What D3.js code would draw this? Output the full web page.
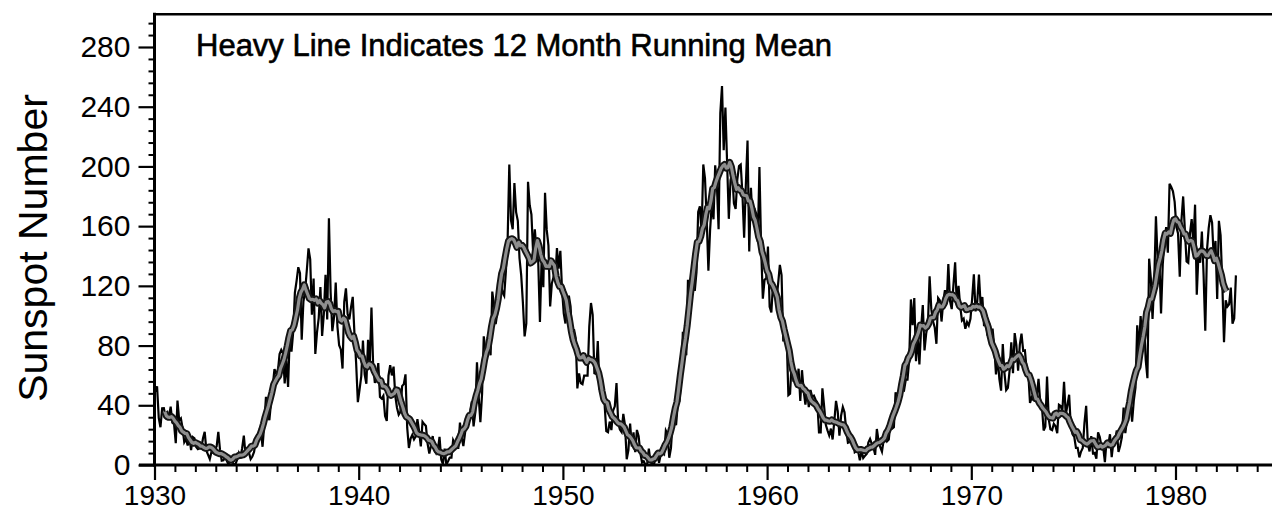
<!DOCTYPE html>
<html>
<head>
<meta charset="utf-8">
<script src="https://cdn.jsdelivr.net/npm/d3@7"></script>
<style>
  html, body { margin: 0; padding: 0; background: #fff; }
  svg { display: block; }
  text { font-family: "Liberation Sans", Arial, sans-serif; fill: #000; }
</style>
</head>
<body>
<svg id="chart" width="1272" height="512"></svg>
<script>
// Monthly mean sunspot numbers, January of the first year onward.
const firstYear = 1930;
const spots1930s = [
  49.2, 52.7, 31.5, 25.3, 38.0, 38.1, 32.2, 34.5, 32.6, 39.1, 28.3, 27.3,
  14.6, 43.1, 30.0, 31.2, 24.6, 15.3, 17.4, 13.0, 19.0, 10.0, 18.7, 17.8,
  12.1, 10.6, 11.2, 11.2, 17.9, 22.2, 9.6, 6.8, 4.0, 8.9, 8.2, 11.0,
  12.3, 22.2, 10.1, 2.9, 3.2, 5.2, 2.8, 0.2, 5.1, 3.0, 0.6, 0.3,
  3.4, 7.8, 4.3, 11.3, 19.7, 6.7, 9.3, 8.3, 4.0, 5.7, 8.7, 15.4,
  18.6, 20.5, 23.1, 12.2, 27.3, 45.7, 33.9, 30.1, 42.1, 53.2, 64.2, 61.5,
  62.8, 74.3, 77.1, 74.9, 54.6, 70.0, 52.3, 87.0, 76.0, 89.0, 115.4, 123.4,
  132.5, 128.5, 83.9, 109.3, 116.7, 130.3, 145.1, 137.7, 100.7, 124.9, 74.4, 88.8,
  98.4, 119.2, 86.5, 101.0, 127.4, 97.5, 165.3, 115.7, 89.6, 99.1, 122.2, 92.7,
  80.3, 77.4, 64.6, 109.1, 118.3, 101.0, 97.6, 105.8, 112.6, 88.1, 68.1, 42.1
];
const spots1940s = [
  50.5, 59.4, 83.3, 60.7, 54.4, 83.9, 67.5, 105.5, 66.5, 55.0, 58.4, 68.3,
  45.6, 44.5, 46.4, 32.8, 29.5, 59.8, 66.9, 60.0, 65.9, 46.3, 38.4, 33.7,
  35.6, 52.8, 54.2, 60.7, 25.0, 11.4, 17.7, 20.2, 17.2, 19.2, 30.7, 22.5,
  12.4, 28.9, 27.4, 26.1, 14.1, 7.6, 13.2, 19.4, 10.0, 7.8, 10.2, 18.8,
  3.7, 0.5, 11.0, 0.3, 2.5, 5.0, 5.0, 16.7, 14.3, 16.9, 10.8, 28.4,
  18.5, 12.7, 21.5, 32.0, 30.6, 36.2, 42.6, 25.9, 34.9, 68.8, 46.0, 28.7,
  47.6, 86.2, 76.6, 75.7, 84.9, 73.5, 116.2, 107.2, 94.4, 102.3, 123.8, 121.7,
  115.7, 113.4, 129.8, 149.8, 201.3, 163.9, 157.9, 188.8, 169.4, 163.6, 138.5, 127.0,
  108.5, 86.1, 94.8, 189.7, 174.0, 167.8, 142.2, 157.9, 143.3, 136.3, 95.8, 138.0,
  119.1, 182.3, 157.5, 147.0, 106.2, 121.7, 125.8, 123.8, 145.3, 131.6, 143.5, 117.6
];
const spots1950s = [
  101.6, 94.8, 109.7, 113.4, 106.2, 83.6, 91.0, 85.2, 51.3, 61.4, 54.8, 54.1,
  59.9, 59.9, 59.9, 92.9, 108.5, 100.6, 61.5, 61.0, 83.1, 51.6, 52.4, 45.8,
  40.7, 22.7, 22.0, 29.1, 23.4, 36.4, 39.3, 54.9, 28.2, 23.8, 22.1, 34.3,
  26.5, 3.9, 10.0, 27.8, 12.5, 21.8, 8.6, 23.5, 19.3, 8.2, 1.6, 2.5,
  0.2, 0.5, 10.9, 1.8, 0.8, 0.2, 4.8, 8.4, 1.5, 7.0, 9.2, 7.6,
  23.1, 20.8, 4.9, 11.3, 28.9, 31.7, 26.7, 40.7, 42.7, 58.5, 89.2, 76.9,
  73.6, 124.0, 118.4, 110.7, 136.6, 116.6, 129.1, 169.6, 173.2, 155.3, 201.3, 192.1,
  165.0, 130.2, 157.4, 175.2, 164.6, 200.7, 187.2, 158.0, 235.8, 253.8, 210.9, 239.4,
  202.5, 164.9, 190.7, 196.0, 175.3, 171.5, 191.4, 200.2, 201.2, 181.5, 152.3, 187.6,
  217.4, 143.1, 185.7, 163.3, 172.0, 168.7, 149.6, 199.6, 145.2, 111.4, 124.0, 125.0
];
const spots1960s = [
  146.3, 106.0, 102.2, 122.0, 119.6, 110.2, 121.7, 134.1, 127.2, 82.8, 89.6, 85.6,
  46.8, 47.8, 70.0, 55.9, 63.2, 51.9, 64.5, 42.9, 63.5, 49.7, 40.5, 49.6,
  38.7, 50.3, 45.6, 46.4, 43.7, 42.0, 21.8, 21.8, 51.3, 39.5, 26.9, 23.2,
  19.8, 24.4, 17.1, 29.3, 43.0, 35.9, 19.6, 33.2, 38.8, 35.3, 23.4, 14.9,
  15.3, 17.7, 16.5, 8.6, 9.5, 9.1, 3.1, 9.3, 4.7, 6.1, 7.4, 15.1,
  17.5, 14.2, 11.7, 6.8, 24.1, 15.9, 11.9, 8.9, 16.8, 20.1, 15.8, 17.0,
  28.2, 24.4, 25.3, 48.7, 45.3, 47.7, 56.7, 51.2, 50.2, 57.2, 57.2, 70.4,
  110.9, 93.6, 111.8, 69.5, 86.5, 67.3, 91.5, 107.2, 76.8, 88.2, 94.3, 126.4,
  104.4, 96.2, 92.2, 81.2, 111.9, 110.3, 96.1, 109.3, 117.2, 107.7, 134.6, 109.8,
  104.4, 120.5, 135.8, 106.8, 120.0, 106.0, 96.8, 98.0, 91.3, 95.7, 93.5, 97.9
];
const spots1970s = [
  111.5, 127.8, 102.9, 109.5, 127.5, 106.8, 112.5, 93.0, 99.5, 86.6, 95.2, 83.5,
  91.3, 79.0, 60.7, 71.8, 57.5, 49.8, 81.0, 61.4, 50.2, 51.7, 63.2, 82.2,
  61.5, 88.4, 80.1, 63.2, 80.5, 88.0, 76.5, 76.8, 64.0, 61.3, 41.6, 45.3,
  43.4, 42.9, 46.0, 57.7, 42.4, 39.5, 23.1, 25.6, 59.3, 30.7, 23.9, 23.3,
  27.6, 26.0, 21.3, 40.3, 39.5, 36.0, 55.8, 33.6, 40.2, 47.1, 25.0, 20.5,
  18.9, 11.5, 11.5, 5.1, 9.0, 11.4, 28.2, 39.7, 13.9, 9.1, 19.4, 7.8,
  8.1, 4.3, 21.9, 18.8, 12.4, 12.2, 1.9, 16.4, 13.5, 20.6, 5.2, 15.3,
  16.4, 23.1, 8.7, 12.9, 18.6, 38.5, 21.4, 30.1, 44.0, 43.8, 29.1, 43.2,
  51.9, 93.6, 76.5, 99.7, 82.7, 95.1, 70.4, 58.1, 138.2, 125.1, 97.9, 122.7,
  166.6, 137.5, 138.0, 101.5, 134.4, 149.5, 159.4, 142.2, 188.4, 186.2, 183.3, 176.3
];
const spots1980s = [
  159.6, 155.0, 126.2, 164.1, 179.9, 157.3, 136.3, 135.4, 155.0, 164.7, 147.9, 174.4,
  114.0, 141.3, 135.5, 156.4, 127.5, 90.0, 143.8, 158.7, 167.3, 162.4, 137.5, 150.1,
  111.2, 163.6, 153.8, 122.0, 82.2, 110.4, 106.1, 107.6, 118.8, 94.7, 98.1, 127.0
];

const xTickYears = [1930, 1940, 1950, 1960, 1970, 1980];
const yTickValues = [0, 40, 80, 120, 160, 200, 240, 280];
const yTitle = "Sunspot Number";
const note = "Heavy Line Indicates 12 Month Running Mean";
const runningWindow = 12;

// Flatten into one monthly series with fractional-year time stamps (mid-month).
const monthlyValues = [].concat(spots1930s, spots1940s, spots1950s, spots1960s, spots1970s, spots1980s);
const monthly = monthlyValues.map((v, i) => ({ t: firstYear + (i + 0.5) / 12, v }));

// Centred 12-month running mean, drawn where the full window is available.
const half = runningWindow / 2;
const smooth = [];
for (let i = half; i + half <= monthlyValues.length; i++) {
  smooth.push({ t: firstYear + i / 12, v: d3.mean(monthlyValues.slice(i - half, i + half)) });
}

const svg = d3.select("#chart");
const W = 1272, H = 512;

const x = d3.scaleLinear().domain([1930, 1980]).range([154.5, 1175.5]);
const y = d3.scaleLinear().domain([0, 280]).range([465, 47]);
const xEnd = x.invert(W + 10);
const yTop = 302;

// Clip marks to the plotting frame
svg.append("clipPath").attr("id", "plot-clip")
  .append("rect")
  .attr("x", x(1930)).attr("y", y(yTop))
  .attr("width", W - x(1930)).attr("height", y(0) - y(yTop));

const line = d3.line().x(d => x(d.t)).y(d => y(d.v));

const marks = svg.append("g").attr("clip-path", "url(#plot-clip)");

// Thin monthly trace
marks.append("path")
  .datum(monthly)
  .attr("d", line)
  .attr("fill", "none")
  .attr("stroke", "#000")
  .attr("stroke-width", 2.2)
  .attr("stroke-linejoin", "miter");

// Heavy running-mean trace: dark casing with a grey core
marks.append("path")
  .datum(smooth)
  .attr("d", line)
  .attr("fill", "none")
  .attr("stroke", "#141414")
  .attr("stroke-width", 7)
  .attr("stroke-linejoin", "round");
marks.append("path")
  .datum(smooth)
  .attr("d", line)
  .attr("fill", "none")
  .attr("stroke", "#8e8e8e")
  .attr("stroke-width", 3.2)
  .attr("stroke-linejoin", "round");

// Y axis: major ticks every 40, minor every 8
const yMinor = d3.range(0, 300, 8).filter(v => v % 40 !== 0);
svg.append("g")
  .attr("transform", `translate(${x(1930)},0)`)
  .call(d3.axisLeft(y).tickValues(yMinor).tickSize(6).tickFormat(""))
  .call(g => g.select(".domain").remove())
  .call(g => g.selectAll("line").attr("stroke-width", 2));
const yAxis = svg.append("g")
  .attr("transform", `translate(${x(1930)},0)`)
  .call(d3.axisLeft(y).tickValues(yTickValues).tickSize(16).tickPadding(8).tickFormat(d3.format("d")));
yAxis.select(".domain").remove();
yAxis.selectAll("line").attr("stroke-width", 2.2);
yAxis.selectAll("text").style("font-size", "30px").attr("fill", "#000");

// X axis: major ticks every decade, minor every year
const xMinor = d3.range(1931, Math.ceil(xEnd)).filter(v => v % 10 !== 0);
svg.append("g")
  .attr("transform", `translate(0,${y(0)})`)
  .call(d3.axisBottom(x).tickValues(xMinor).tickSize(7).tickFormat(""))
  .call(g => g.select(".domain").remove())
  .call(g => g.selectAll("line").attr("stroke-width", 2));
const xAxis = svg.append("g")
  .attr("transform", `translate(0,${y(0)})`)
  .call(d3.axisBottom(x).tickValues(xTickYears).tickSize(15).tickPadding(5).tickFormat(d3.format("d")));
xAxis.select(".domain").remove();
xAxis.selectAll("line").attr("stroke-width", 2.2);
xAxis.selectAll("text").style("font-size", "28px").attr("fill", "#000");

// Frame lines: left axis, baseline and top border
const frame = svg.append("g").attr("stroke", "#000").attr("stroke-linecap", "square");
frame.append("line")
  .attr("x1", x(1930)).attr("x2", x(1930))
  .attr("y1", y(yTop)).attr("y2", y(0))
  .attr("stroke-width", 3);
frame.append("line")
  .attr("x1", x(1930) - 14).attr("x2", W)
  .attr("y1", y(0)).attr("y2", y(0))
  .attr("stroke-width", 3);
frame.append("line")
  .attr("x1", x(1930)).attr("x2", W)
  .attr("y1", y(yTop)).attr("y2", y(yTop))
  .attr("stroke-width", 2.5);

// Y axis title
svg.append("text")
  .attr("transform", `translate(47,${248}) rotate(-90)`)
  .attr("text-anchor", "middle")
  .style("font-size", "41px")
  .text(yTitle);

// Annotation inside the plot
svg.append("text")
  .attr("x", 196)
  .attr("y", 56)
  .style("font-size", "31px")
  .attr("stroke", "#000")
  .attr("stroke-width", 0.6)
  .text(note);
</script>
</body>
</html>
